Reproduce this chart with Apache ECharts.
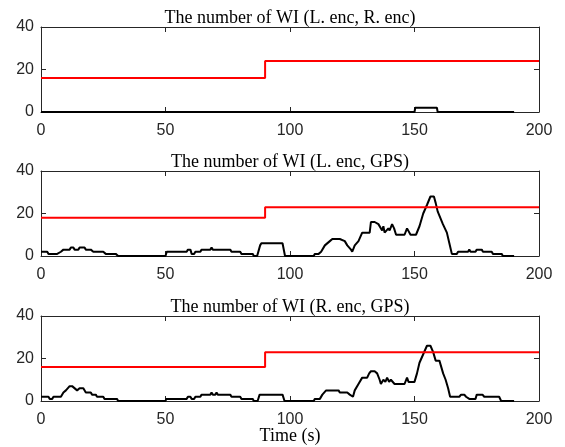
<!DOCTYPE html>
<html>
<head>
<meta charset="utf-8">
<script src="https://cdn.jsdelivr.net/npm/echarts@6/dist/echarts.min.js"></script>
<style>
html,body{margin:0;padding:0;background:#fff;}
#chart{width:565px;height:447px;}
</style>
</head>
<body>
<div id="chart"></div>
<script>
// ---- data ----
const titles = [
  'The number of WI (L. enc, R. enc)',
  'The number of WI (L. enc, GPS)',
  'The number of WI (R. enc, GPS)'
];
const xTicks = [0, 50, 100, 150, 200];
const yTicks = [0, 20, 40];
const xLabel = 'Time (s)';

// red threshold: step at t = 90
const redStepTime = 90;
const redBefore = [16, 18, 16];
const redAfter  = [24, 23, 23];

// black: number of WI, [time, value]
const wi1 = [[0,0],[150,0],[150.3,2],[159,2],[159.3,0],[190,0]];

const wi2 = [[0,2],[2.5,2],[3,1],[6.5,1],[8,2],[9,3],[11.5,3],[12,4],[13,4],[13.5,3],[15,3],[15.5,4],[17.5,4],[18,3],[20,3],[21,2],[25,2],[26,1],[30,1],[31,0],
  [50,0],[50.5,2],[58.5,2],[59,3],[60,3],[60.5,1],[61.5,1],[62,2],[64,2],[64.5,3],[68,3],[68.5,4],[69,3],[76,3],[76.5,2],[80,2],[80.5,1],[85,1],[85.5,0],[86.8,0],
  [88,5],[88.5,6],[97,6],[98,0],[109.5,0],[110,1],[111.5,1],[112.5,2],[114,5],[116,7],[117,8],[120,8],[122,7],[123,5],[124.5,3],[125,2],[126,5],[127.5,7],[129,11],
  [132,11],[132.5,16],[134,16],[135.5,15],[137,12],[137.5,14],[138,11],[139.5,13],[140,12],[141,15],[141.8,13],[142.6,10],[146,10],[147,13],[148.4,10],[150.6,10],
  [152,14],[153.5,20],[155,24],[156.4,28],[157.8,28],[158.5,25],[159.3,21],[160,21],[161.4,15],[163,11],[164,6],[165,1],[167,1],[167.5,2],[171.5,2],[172,3],[172.5,2],
  [174.5,2],[175,3],[177,3],[177.5,2],[181,2],[181.5,1],[185,1],[185.5,0],[190,0]];

const wi3 = [[0,2],[3,2],[3.5,1],[4.5,1],[5,2],[8,2],[9,4],[10,5],[11.5,7],[12.5,7],[13,6.5],[14.5,5],[15.5,6],[17,6],[18,4],[20,4],[20.5,3],[22,3],[22.5,2],[25,2],
  [25.5,1],[30.5,1],[31,0],[50,0],[50.3,1],[58.5,1],[59,2],[60,2],[60.5,1],[61.5,1],[62,2],[64,2],[64.5,3],[68,3],[68.5,4],[69,3],[70,3],[70.5,4],[71,3],[76,3],
  [76.5,2],[80,2],[80.5,1],[85,1],[85.5,0],[87,0],[87.8,3],[97,3],[97.8,0],[109.5,0],[110,1],[112,1],[113,3],[114.5,5],[119.5,5],[120,4],[123,4],[124,3],[125.3,2],
  [126,5],[127.5,8],[129,11],[131,11],[131.8,13],[132.5,14],[134,14],[135,13],[136,10],[136.5,8],[137.5,10],[138.3,9],[139,11],[139.8,9],[140.5,10],[141.3,10],[142,8],
  [146,8],[147,11],[147.6,9],[150,9],[151,13],[152,18],[153.5,22],[155,26],[156.4,26],[157.5,23],[158.5,19],[160,19],[161.5,13],[162.5,10],[163.5,6],[164.3,2],[168,2],
  [168.7,3],[170,3],[170.7,2],[172,1],[174.5,1],[175,3],[177.3,3],[178,2],[184,2],[184.8,0],[190,0]];

const wiSeries = [wi1, wi2, wi3];

// ---- layout ----
const gridTops = [27, 171, 316];
const gridH = 85;
const gLeft = 41, gRight = 26;
const axisColor = '#262626';
const sans = 'Liberation Sans';
const serif = 'Liberation Serif';
const centerX = gLeft + (565 - gLeft - gRight) / 2;

const chart = echarts.init(document.getElementById('chart'), null, {renderer: 'canvas'});

const grids = [], xAxes = [], yAxes = [], series = [], titleArr = [];
const xMin = xTicks[0], xMax = xTicks[xTicks.length - 1], xInt = xTicks[1] - xTicks[0];
const yMin = yTicks[0], yMax = yTicks[yTicks.length - 1], yInt = yTicks[1] - yTicks[0];

for (let i = 0; i < 3; i++) {
  grids.push({left: gLeft, right: gRight, top: gridTops[i], height: gridH});
  titleArr.push({
    text: titles[i], left: centerX, top: gridTops[i] - 23, textAlign: 'center',
    padding: [5, 0, 0, 0],
    textStyle: {fontFamily: serif, fontSize: 18, fontWeight: 'normal', color: '#000'}
  });
  const xBase = {
    type: 'value', gridIndex: i, min: xMin, max: xMax, interval: xInt,
    axisLine: {show: true, onZero: false, lineStyle: {color: axisColor, width: 1}},
    axisTick: {show: true, inside: true, length: 5, lineStyle: {color: axisColor}},
    splitLine: {show: false}
  };
  xAxes.push(Object.assign({}, xBase, {
    position: 'bottom',
    axisLabel: {show: true, margin: 11, fontFamily: sans, fontSize: 16, color: axisColor}
  }));
  xAxes.push(Object.assign({}, xBase, {position: 'top', axisLabel: {show: false}}));
  const yBase = {
    type: 'value', gridIndex: i, min: yMin, max: yMax, interval: yInt,
    axisLine: {show: true, onZero: false, lineStyle: {color: axisColor, width: 1}},
    axisTick: {show: true, inside: true, length: 5, lineStyle: {color: axisColor}},
    splitLine: {show: false}
  };
  yAxes.push(Object.assign({}, yBase, {
    position: 'left',
    axisLabel: {show: true, margin: 7, fontFamily: sans, fontSize: 16, color: axisColor}
  }));
  yAxes.push(Object.assign({}, yBase, {position: 'right', axisLabel: {show: false}}));

  series.push({
    type: 'line', xAxisIndex: 2 * i, yAxisIndex: 2 * i, data: wiSeries[i],
    showSymbol: false, symbol: 'none',
    lineStyle: {color: '#000', width: 2}, z: 3, animation: false
  });
  series.push({
    type: 'line', xAxisIndex: 2 * i, yAxisIndex: 2 * i,
    data: [[xMin, redBefore[i]], [redStepTime, redBefore[i]], [redStepTime, redAfter[i]], [xMax, redAfter[i]]],
    showSymbol: false, symbol: 'none',
    lineStyle: {color: '#ff0000', width: 2}, z: 4, animation: false
  });
}

// x-axis label as a text element below the last panel
titleArr.push({
  text: xLabel, left: centerX, top: 427, textAlign: 'center', padding: 0,
  textStyle: {fontFamily: serif, fontSize: 18, fontWeight: 'normal', color: '#000'}
});

chart.setOption({
  animation: false,
  backgroundColor: '#fff',
  title: titleArr,
  grid: grids,
  xAxis: xAxes,
  yAxis: yAxes,
  series: series
});
</script>
</body>
</html>
